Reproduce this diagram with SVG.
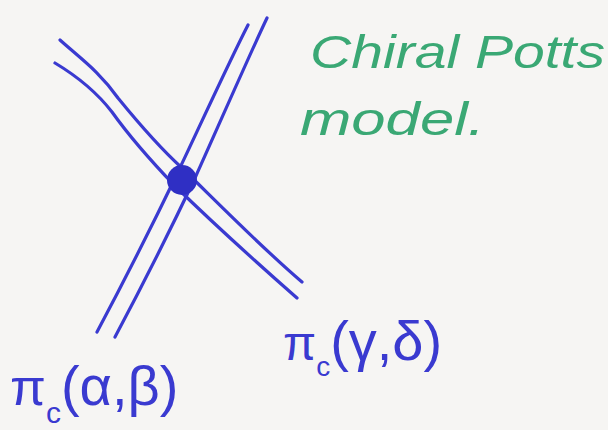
<svg xmlns="http://www.w3.org/2000/svg" width="608" height="430" viewBox="0 0 608 430">
<style>
.ink{fill:none;stroke:#3a3ad0;stroke-width:3.2;stroke-linecap:round;stroke-linejoin:round}
.lbl{font-family:"Liberation Sans",sans-serif;fill:#3a3ad0}
.grn{font-family:"Liberation Sans",sans-serif;fill:#3aa874;font-style:italic}
</style>
<rect width="608" height="430" fill="#f6f5f3"/>
<g id="connectors">
<path class="ink" d="M248,25 C230,60 205,115 178,172 C150,230 122,285 97,332"/>
<path class="ink" d="M267,18 C248,58 222,118 195,178 C168,235 140,290 115,337"/>
<path class="ink" d="M60,40 C80,58 100,72 118,98 C140,125 160,148 182,168 C220,205 262,248 302,282"/>
<path class="ink" d="M55,63 C75,75 95,90 112,112 C132,140 152,162 175,186 C212,222 256,262 297,298"/>
</g>
<g id="vertex">
<circle cx="182" cy="180" r="15" fill="#2f2fc4"/>
</g>
<g id="title">
<text class="grn" x="310" y="68" font-size="46" textLength="295" lengthAdjust="spacingAndGlyphs">Chiral Potts</text>
<text class="grn" x="300" y="135" font-size="46" textLength="185" lengthAdjust="spacingAndGlyphs">model.</text>
</g>
<g id="label-ab">
<text class="lbl" x="10" y="405" font-size="52">π<tspan font-size="30" dy="18">c</tspan><tspan dy="-18" font-size="56">(α,β)</tspan></text>
</g>
<g id="label-gd">
<text class="lbl" x="283" y="360" font-size="48">π<tspan font-size="28" dy="16">c</tspan><tspan dy="-16" font-size="56">(γ,δ)</tspan></text>
</g>
</svg>
